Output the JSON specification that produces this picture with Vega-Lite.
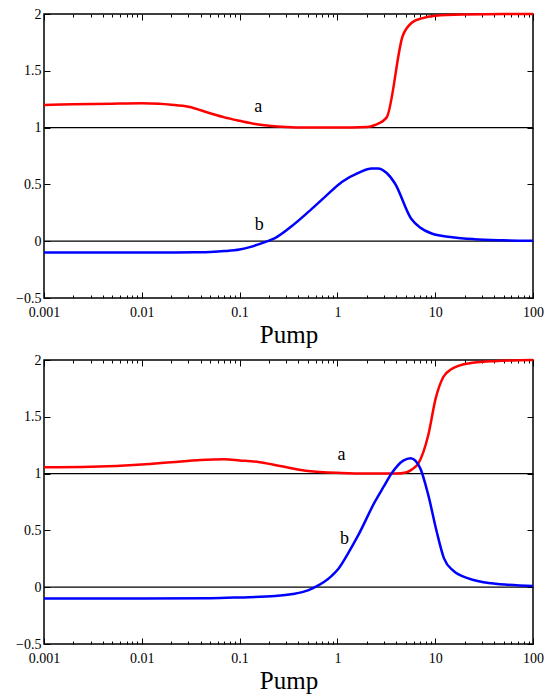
{
  "$schema": "https://vega.github.io/schema/vega-lite/v6.json",
  "padding": {"left": 14, "right": 5, "top": 6, "bottom": 0},
  "spacing": 4,
  "background": "white",
  "config": {
    "view": {"stroke": "black", "strokeWidth": 1.5},
    "axis": {
      "domain": false, "grid": false,
      "labelFont": "Liberation Serif", "labelFontSize": 14, "labelColor": "black",
      "titleFont": "Liberation Serif", "titleFontSize": 25, "titleFontWeight": "normal", "titleColor": "black",
      "tickColor": "black", "tickWidth": 1, "labelOverlap": false, "labelFlush": false
    },
    "text": {"font": "Liberation Serif"}
  },
  "datasets": {
    "curves": [
      {"panel": 1, "series": "a", "x": 0.001, "y": 1.2},
      {"panel": 1, "series": "a", "x": 0.002, "y": 1.205},
      {"panel": 1, "series": "a", "x": 0.005, "y": 1.211},
      {"panel": 1, "series": "a", "x": 0.01, "y": 1.214},
      {"panel": 1, "series": "a", "x": 0.015, "y": 1.21},
      {"panel": 1, "series": "a", "x": 0.02, "y": 1.202},
      {"panel": 1, "series": "a", "x": 0.03, "y": 1.184},
      {"panel": 1, "series": "a", "x": 0.05, "y": 1.126},
      {"panel": 1, "series": "a", "x": 0.07, "y": 1.09},
      {"panel": 1, "series": "a", "x": 0.1, "y": 1.06},
      {"panel": 1, "series": "a", "x": 0.15, "y": 1.03},
      {"panel": 1, "series": "a", "x": 0.2, "y": 1.017},
      {"panel": 1, "series": "a", "x": 0.3, "y": 1.006},
      {"panel": 1, "series": "a", "x": 0.5, "y": 1.001},
      {"panel": 1, "series": "a", "x": 1, "y": 1.0},
      {"panel": 1, "series": "a", "x": 2, "y": 1.005},
      {"panel": 1, "series": "a", "x": 2.42, "y": 1.023},
      {"panel": 1, "series": "a", "x": 3.19, "y": 1.09},
      {"panel": 1, "series": "a", "x": 4.65, "y": 1.806},
      {"panel": 1, "series": "a", "x": 5.75, "y": 1.923},
      {"panel": 1, "series": "a", "x": 7.28, "y": 1.962},
      {"panel": 1, "series": "a", "x": 10, "y": 1.985},
      {"panel": 1, "series": "a", "x": 20, "y": 1.996},
      {"panel": 1, "series": "a", "x": 50, "y": 2.0},
      {"panel": 1, "series": "a", "x": 100, "y": 2.0},

      {"panel": 1, "series": "b", "x": 0.001, "y": -0.1},
      {"panel": 1, "series": "b", "x": 0.01, "y": -0.1},
      {"panel": 1, "series": "b", "x": 0.02, "y": -0.099},
      {"panel": 1, "series": "b", "x": 0.035, "y": -0.097},
      {"panel": 1, "series": "b", "x": 0.05, "y": -0.094},
      {"panel": 1, "series": "b", "x": 0.07, "y": -0.087},
      {"panel": 1, "series": "b", "x": 0.1, "y": -0.073},
      {"panel": 1, "series": "b", "x": 0.13, "y": -0.05},
      {"panel": 1, "series": "b", "x": 0.16, "y": -0.025},
      {"panel": 1, "series": "b", "x": 0.2, "y": 0.005},
      {"panel": 1, "series": "b", "x": 0.23, "y": 0.028},
      {"panel": 1, "series": "b", "x": 0.34, "y": 0.132},
      {"panel": 1, "series": "b", "x": 0.505, "y": 0.258},
      {"panel": 1, "series": "b", "x": 0.746, "y": 0.39},
      {"panel": 1, "series": "b", "x": 1.11, "y": 0.522},
      {"panel": 1, "series": "b", "x": 1.64, "y": 0.601},
      {"panel": 1, "series": "b", "x": 2.24, "y": 0.64},
      {"panel": 1, "series": "b", "x": 2.6, "y": 0.64},
      {"panel": 1, "series": "b", "x": 3.19, "y": 0.6},
      {"panel": 1, "series": "b", "x": 3.88, "y": 0.508},
      {"panel": 1, "series": "b", "x": 5.66, "y": 0.2},
      {"panel": 1, "series": "b", "x": 7.0, "y": 0.12},
      {"panel": 1, "series": "b", "x": 9.2, "y": 0.068},
      {"panel": 1, "series": "b", "x": 15, "y": 0.035},
      {"panel": 1, "series": "b", "x": 25, "y": 0.018},
      {"panel": 1, "series": "b", "x": 50, "y": 0.008},
      {"panel": 1, "series": "b", "x": 100, "y": 0.003},

      {"panel": 2, "series": "a", "x": 0.001, "y": 1.055},
      {"panel": 2, "series": "a", "x": 0.003, "y": 1.06},
      {"panel": 2, "series": "a", "x": 0.01, "y": 1.08},
      {"panel": 2, "series": "a", "x": 0.02, "y": 1.1},
      {"panel": 2, "series": "a", "x": 0.04, "y": 1.12},
      {"panel": 2, "series": "a", "x": 0.07, "y": 1.126},
      {"panel": 2, "series": "a", "x": 0.1, "y": 1.116},
      {"panel": 2, "series": "a", "x": 0.16, "y": 1.1},
      {"panel": 2, "series": "a", "x": 0.23, "y": 1.076},
      {"panel": 2, "series": "a", "x": 0.35, "y": 1.045},
      {"panel": 2, "series": "a", "x": 0.5, "y": 1.023},
      {"panel": 2, "series": "a", "x": 1.1, "y": 1.005},
      {"panel": 2, "series": "a", "x": 2, "y": 1.0},
      {"panel": 2, "series": "a", "x": 4, "y": 1.0},
      {"panel": 2, "series": "a", "x": 5.0, "y": 1.01},
      {"panel": 2, "series": "a", "x": 5.75, "y": 1.035},
      {"panel": 2, "series": "a", "x": 6.73, "y": 1.09},
      {"panel": 2, "series": "a", "x": 8.5, "y": 1.34},
      {"panel": 2, "series": "a", "x": 10.1, "y": 1.66},
      {"panel": 2, "series": "a", "x": 12.1, "y": 1.85},
      {"panel": 2, "series": "a", "x": 14.7, "y": 1.92},
      {"panel": 2, "series": "a", "x": 21.8, "y": 1.97},
      {"panel": 2, "series": "a", "x": 40, "y": 1.99},
      {"panel": 2, "series": "a", "x": 100, "y": 2.0},

      {"panel": 2, "series": "b", "x": 0.001, "y": -0.1},
      {"panel": 2, "series": "b", "x": 0.01, "y": -0.1},
      {"panel": 2, "series": "b", "x": 0.05, "y": -0.097},
      {"panel": 2, "series": "b", "x": 0.1, "y": -0.09},
      {"panel": 2, "series": "b", "x": 0.23, "y": -0.078},
      {"panel": 2, "series": "b", "x": 0.35, "y": -0.06},
      {"panel": 2, "series": "b", "x": 0.5, "y": -0.028},
      {"panel": 2, "series": "b", "x": 0.59, "y": 0.0},
      {"panel": 2, "series": "b", "x": 0.874, "y": 0.1},
      {"panel": 2, "series": "b", "x": 1.02, "y": 0.16},
      {"panel": 2, "series": "b", "x": 1.29, "y": 0.3},
      {"panel": 2, "series": "b", "x": 1.64, "y": 0.46},
      {"panel": 2, "series": "b", "x": 2.42, "y": 0.753},
      {"panel": 2, "series": "b", "x": 2.95, "y": 0.88},
      {"panel": 2, "series": "b", "x": 3.59, "y": 1.003},
      {"panel": 2, "series": "b", "x": 4.72, "y": 1.114},
      {"panel": 2, "series": "b", "x": 5.61, "y": 1.135},
      {"panel": 2, "series": "b", "x": 7.0, "y": 1.05},
      {"panel": 2, "series": "b", "x": 8.5, "y": 0.81},
      {"panel": 2, "series": "b", "x": 10.35, "y": 0.49},
      {"panel": 2, "series": "b", "x": 12.3, "y": 0.254},
      {"panel": 2, "series": "b", "x": 15.3, "y": 0.145},
      {"panel": 2, "series": "b", "x": 21.8, "y": 0.078},
      {"panel": 2, "series": "b", "x": 37.8, "y": 0.034},
      {"panel": 2, "series": "b", "x": 100, "y": 0.01}
    ],
    "rules": [
      {"x": 0.001, "x2": 100, "y": 1},
      {"x": 0.001, "x2": 100, "y": 0}
    ],
    "labels": [
      {"panel": 1, "label": "a", "x": 0.155, "y": 1.18},
      {"panel": 1, "label": "b", "x": 0.159, "y": 0.14},
      {"panel": 2, "label": "a", "x": 1.1, "y": 1.16},
      {"panel": 2, "label": "b", "x": 1.18, "y": 0.42}
    ]
  },
  "vconcat": [
    {
      "width": 489, "height": 284,
      "resolve": {"axis": {"x": "independent", "y": "independent"}},
      "layer": [
        {
          "data": {"name": "rules"},
          "mark": {"type": "rule", "color": "black", "strokeWidth": 1.2},
          "encoding": {
            "x": {"field": "x", "type": "quantitative", "scale": {"type": "log", "domain": [0.001, 100]},
                  "axis": {"orient": "bottom", "values": [0.001, 0.01, 0.1, 1, 10, 100], "format": "~g", "tickSize": -6, "labelPadding": 13, "title": "Pump", "titlePadding": 3}},
            "x2": {"field": "x2"},
            "y": {"field": "y", "type": "quantitative", "scale": {"domain": [-0.5, 2], "nice": false, "zero": false},
                  "axis": {"orient": "left", "values": [-0.5, 0, 0.5, 1, 1.5, 2], "format": "~g", "tickSize": -6, "labelPadding": 9, "title": null}}
          }
        },
        {
          "data": {"name": "curves"},
          "transform": [{"filter": "datum.panel == 1 && datum.series == 'a'"}],
          "mark": {"type": "line", "color": "#ff0000", "strokeWidth": 2.5, "interpolate": "monotone"},
          "encoding": {
            "x": {"field": "x", "type": "quantitative", "scale": {"type": "log", "domain": [0.001, 100]},
                  "axis": {"orient": "bottom", "values": [0.002,0.003,0.004,0.005,0.006,0.007,0.008,0.009,0.02,0.03,0.04,0.05,0.06,0.07,0.08,0.09,0.2,0.3,0.4,0.5,0.6,0.7,0.8,0.9,2,3,4,5,6,7,8,9,20,30,40,50,60,70,80,90], "labels": false, "tickSize": -3, "title": null}},
            "y": {"field": "y", "type": "quantitative", "scale": {"domain": [-0.5, 2], "nice": false, "zero": false},
                  "axis": {"orient": "right", "values": [-0.5, 0, 0.5, 1, 1.5, 2], "labels": false, "tickSize": -6, "title": null}}
          }
        },
        {
          "data": {"name": "curves"},
          "transform": [{"filter": "datum.panel == 1 && datum.series == 'b'"}],
          "mark": {"type": "line", "color": "#0000ff", "strokeWidth": 2.5, "interpolate": "monotone"},
          "encoding": {
            "x": {"field": "x", "type": "quantitative", "scale": {"type": "log", "domain": [0.001, 100]},
                  "axis": {"orient": "top", "values": [0.001, 0.01, 0.1, 1, 10, 100], "labels": false, "tickSize": -6, "title": null}},
            "y": {"field": "y", "type": "quantitative", "scale": {"domain": [-0.5, 2], "nice": false, "zero": false}, "axis": null}
          }
        },
        {
          "data": {"name": "labels"},
          "transform": [{"filter": "datum.panel == 1"}],
          "mark": {"type": "text", "fontSize": 18, "color": "black", "font": "Liberation Serif"},
          "encoding": {
            "x": {"field": "x", "type": "quantitative", "scale": {"type": "log", "domain": [0.001, 100]},
                  "axis": {"orient": "top", "values": [0.002,0.003,0.004,0.005,0.006,0.007,0.008,0.009,0.02,0.03,0.04,0.05,0.06,0.07,0.08,0.09,0.2,0.3,0.4,0.5,0.6,0.7,0.8,0.9,2,3,4,5,6,7,8,9,20,30,40,50,60,70,80,90], "labels": false, "tickSize": -3, "title": null}},
            "y": {"field": "y", "type": "quantitative", "scale": {"domain": [-0.5, 2], "nice": false, "zero": false}, "axis": null},
            "text": {"field": "label"}
          }
        }
      ]
    },
    {
      "width": 489, "height": 284,
      "resolve": {"axis": {"x": "independent", "y": "independent"}},
      "layer": [
        {
          "data": {"name": "rules"},
          "mark": {"type": "rule", "color": "black", "strokeWidth": 1.2},
          "encoding": {
            "x": {"field": "x", "type": "quantitative", "scale": {"type": "log", "domain": [0.001, 100]},
                  "axis": {"orient": "bottom", "values": [0.001, 0.01, 0.1, 1, 10, 100], "format": "~g", "tickSize": -6, "labelPadding": 13, "title": "Pump", "titlePadding": 3}},
            "x2": {"field": "x2"},
            "y": {"field": "y", "type": "quantitative", "scale": {"domain": [-0.5, 2], "nice": false, "zero": false},
                  "axis": {"orient": "left", "values": [-0.5, 0, 0.5, 1, 1.5, 2], "format": "~g", "tickSize": -6, "labelPadding": 9, "title": null}}
          }
        },
        {
          "data": {"name": "curves"},
          "transform": [{"filter": "datum.panel == 2 && datum.series == 'a'"}],
          "mark": {"type": "line", "color": "#ff0000", "strokeWidth": 2.5, "interpolate": "monotone"},
          "encoding": {
            "x": {"field": "x", "type": "quantitative", "scale": {"type": "log", "domain": [0.001, 100]},
                  "axis": {"orient": "bottom", "values": [0.002,0.003,0.004,0.005,0.006,0.007,0.008,0.009,0.02,0.03,0.04,0.05,0.06,0.07,0.08,0.09,0.2,0.3,0.4,0.5,0.6,0.7,0.8,0.9,2,3,4,5,6,7,8,9,20,30,40,50,60,70,80,90], "labels": false, "tickSize": -3, "title": null}},
            "y": {"field": "y", "type": "quantitative", "scale": {"domain": [-0.5, 2], "nice": false, "zero": false},
                  "axis": {"orient": "right", "values": [-0.5, 0, 0.5, 1, 1.5, 2], "labels": false, "tickSize": -6, "title": null}}
          }
        },
        {
          "data": {"name": "curves"},
          "transform": [{"filter": "datum.panel == 2 && datum.series == 'b'"}],
          "mark": {"type": "line", "color": "#0000ff", "strokeWidth": 2.5, "interpolate": "monotone"},
          "encoding": {
            "x": {"field": "x", "type": "quantitative", "scale": {"type": "log", "domain": [0.001, 100]},
                  "axis": {"orient": "top", "values": [0.001, 0.01, 0.1, 1, 10, 100], "labels": false, "tickSize": -6, "title": null}},
            "y": {"field": "y", "type": "quantitative", "scale": {"domain": [-0.5, 2], "nice": false, "zero": false}, "axis": null}
          }
        },
        {
          "data": {"name": "labels"},
          "transform": [{"filter": "datum.panel == 2"}],
          "mark": {"type": "text", "fontSize": 18, "color": "black", "font": "Liberation Serif"},
          "encoding": {
            "x": {"field": "x", "type": "quantitative", "scale": {"type": "log", "domain": [0.001, 100]},
                  "axis": {"orient": "top", "values": [0.002,0.003,0.004,0.005,0.006,0.007,0.008,0.009,0.02,0.03,0.04,0.05,0.06,0.07,0.08,0.09,0.2,0.3,0.4,0.5,0.6,0.7,0.8,0.9,2,3,4,5,6,7,8,9,20,30,40,50,60,70,80,90], "labels": false, "tickSize": -3, "title": null}},
            "y": {"field": "y", "type": "quantitative", "scale": {"domain": [-0.5, 2], "nice": false, "zero": false}, "axis": null},
            "text": {"field": "label"}
          }
        }
      ]
    }
  ]
}
